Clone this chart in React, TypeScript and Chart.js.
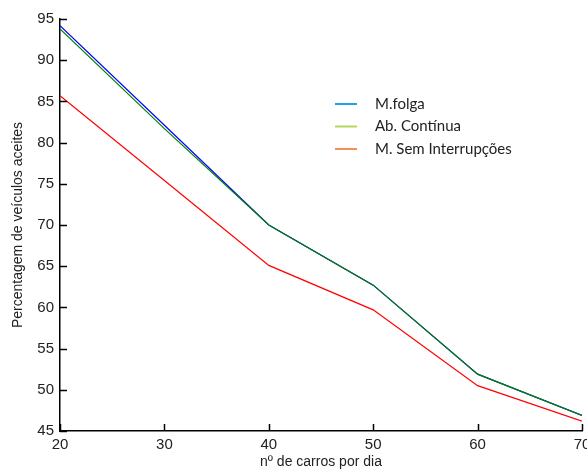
import React, { useEffect, useRef } from "react";
import { Chart, registerables } from "chart.js";

Chart.register(...registerables);

const carsPerDay = [20, 30, 40, 50, 60, 70];
const mFolga = [94.2, 82.1, 70.0, 62.7, 51.9, 46.9];
const abContinua = [93.8, 81.7, 70.0, 62.7, 51.9, 46.9];
const mSemInterrupcoes = [85.7, 75.4, 65.1, 59.7, 50.5, 46.2];
const seriesLabels = ["M.folga", "Ab. Contínua", "M. Sem Interrupções"];
const lineColors = ["#0000ff", "#008000", "#ff0000"];
const legendColors = ["#21a1ea", "#b5d65e", "#f59158"];
const drawOrder = [3, 2, 1];
const xTickValues = [20, 30, 40, 50, 60, 70];
const yTickValues = [45, 50, 55, 60, 65, 70, 75, 80, 85, 90, 95];
const xTitle = "nº de carros por dia";
const yTitle = "Percentagem de veículos aceites";

const axisFont = "'Liberation Sans', Arial, sans-serif";

const overlay = {
  id: "overlay",
  afterDraw(chart: any) {
    const ctx = chart.ctx as CanvasRenderingContext2D;
    const xs = chart.scales["x"];
    const ys = chart.scales["y"];
    const area = chart.chartArea;
    ctx.save();
    ctx.strokeStyle = "#000000";
    ctx.lineWidth = 1.5;
    for (const v of xTickValues) {
      const px = Math.round(xs.getPixelForValue(v)) + 0.5;
      ctx.beginPath();
      ctx.moveTo(px, area.bottom);
      ctx.lineTo(px, area.bottom - 7);
      ctx.stroke();
    }
    for (const v of yTickValues) {
      const py = Math.round(ys.getPixelForValue(v)) + 0.5;
      ctx.beginPath();
      ctx.moveTo(area.left, py);
      ctx.lineTo(area.left + 7, py);
      ctx.stroke();
    }

    const x0 = area.left + 275;
    const y0 = area.top + 85;
    const rowH = 22.5;
    ctx.font = "15px Lato, 'Open Sans', sans-serif";
    ctx.textBaseline = "middle";
    ctx.textAlign = "left";
    seriesLabels.forEach((label, i) => {
      const y = y0 + i * rowH;
      ctx.strokeStyle = legendColors[i];
      ctx.lineWidth = 2;
      ctx.beginPath();
      ctx.moveTo(x0, y);
      ctx.lineTo(x0 + 22, y);
      ctx.stroke();
      ctx.fillStyle = "#222";
      ctx.fillText(label, x0 + 40, y);
    });
    ctx.restore();
  },
};

export default function App() {
  const canvasRef = useRef<HTMLCanvasElement | null>(null);

  useEffect(() => {
    document.body.style.margin = "0";
    const canvas = canvasRef.current;
    if (!canvas) return;
    const toPoints = (arr: number[]) => carsPerDay.map((x, i) => ({ x, y: arr[i] }));
    const chart = new Chart(canvas, {
      type: "line",
      data: {
        datasets: [mFolga, abContinua, mSemInterrupcoes].map((arr, i) => ({
          label: seriesLabels[i],
          data: toPoints(arr),
          borderColor: lineColors[i],
          backgroundColor: lineColors[i],
          borderWidth: 1.2,
          pointRadius: 0,
          tension: 0,
          fill: false,
          order: drawOrder[i],
        })),
      },
      options: {
        animation: false,
        responsive: false,
        maintainAspectRatio: false,
        layout: { padding: { top: 19, right: 5, left: 0, bottom: 0 } },
        plugins: {
          legend: { display: false },
          tooltip: { enabled: false },
        },
        scales: {
          x: {
            type: "linear",
            min: 20,
            max: 70,
            afterBuildTicks: (scale: any) => {
              scale.ticks = xTickValues.map((v) => ({ value: v }));
            },
            afterFit: (scale: any) => {
              scale.height = 42;
              scale.paddingLeft = 0;
              scale.paddingRight = 0;
            },
            ticks: {
              padding: 5,
              maxRotation: 0,
              autoSkip: false,
              color: "#222",
              font: { family: axisFont, size: 15 },
            },
            grid: { display: false, drawTicks: false },
            border: { display: true, color: "#000", width: 1.5 },
            title: {
              display: true,
              text: xTitle,
              color: "#222",
              font: { family: axisFont, size: 14 },
              padding: { top: 0, bottom: 2 },
            },
          },
          y: {
            type: "linear",
            min: 45,
            max: 95,
            afterBuildTicks: (scale: any) => {
              scale.ticks = yTickValues.map((v) => ({ value: v }));
            },
            afterFit: (scale: any) => {
              scale.width = 60;
              scale.paddingTop = 0;
              scale.paddingBottom = 0;
            },
            ticks: {
              padding: 6,
              autoSkip: false,
              color: "#222",
              font: { family: axisFont, size: 15 },
            },
            grid: { display: false, drawTicks: false },
            border: { display: true, color: "#000", width: 1.5 },
            title: {
              display: true,
              text: yTitle,
              color: "#222",
              font: { family: axisFont, size: 14 },
              padding: { top: 10, bottom: 0 },
            },
          },
        },
      },
      plugins: [overlay],
    });
    return () => chart.destroy();
  }, []);

  return (
    <div style={{ position: "absolute", left: 0, top: 0, width: 587, height: 473, background: "#fff" }}>
      <canvas ref={canvasRef} width={587} height={473} />
    </div>
  );
}
